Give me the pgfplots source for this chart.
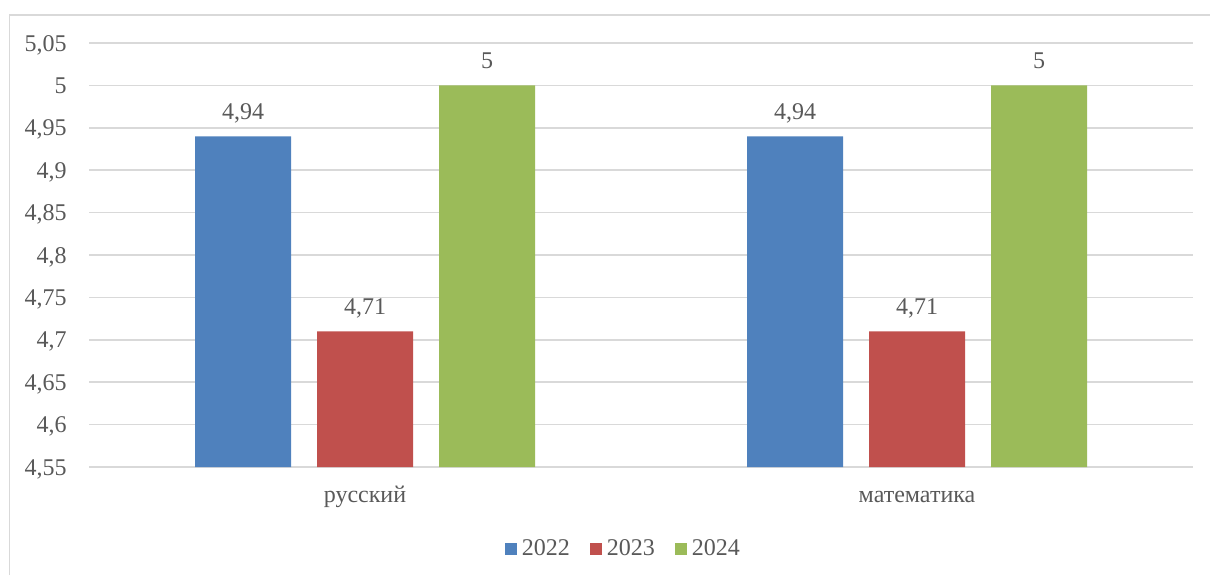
\documentclass[border=0pt]{standalone}
\usepackage{pgfplots}
\pgfplotsset{compat=1.18}
\usepackage{fontspec}
\setmainfont{Liberation Serif}
\definecolor{cblue}{HTML}{4F81BD}
\definecolor{cred}{HTML}{C0504D}
\definecolor{cgreen}{HTML}{9BBB59}
\definecolor{tgray}{HTML}{595959}
\definecolor{ggray}{HTML}{D9D9D9}
\newcommand{\lf}{\fontsize{12}{14}\selectfont}
\begin{document}
\begin{tikzpicture}[font=\lf]
\draw[ggray, line width=0.75pt] (4.75pt,0pt) -- (4.75pt,280pt) -- (605pt,280pt);
\begin{axis}[
  at={(44.5pt,54pt)}, anchor=south west,
  scale only axis, width=552pt, height=212pt,
  ybar=13pt, bar width=48pt,
  xmin=-0.5, xmax=1.5,
  ymin=4.55, ymax=5.05,
  xtick={0,1}, xticklabels={русский, математика},
  ytick={4.55,4.6,4.65,4.7,4.75,4.8,4.85,4.9,4.95,5,5.05},
  yticklabels={{4,55},{4,6},{4,65},{4,7},{4,75},{4,8},{4,85},{4,9},{4,95},{5},{5,05}},
  major tick length=0pt,
  tick style={draw=none},
  axis line style={draw=none},
  ymajorgrids, grid style={ggray, line width=0.75pt},
  yticklabel style={anchor=east, inner sep=0pt, xshift=-11pt, text=tgray, text height=8pt, text depth=0pt, font=\lf},
  xticklabel style={anchor=base, inner sep=0pt, yshift=-17.5pt, text=tgray, font=\lf},
  point meta=explicit symbolic,
  nodes near coords,
  every node near coord/.append style={anchor=base, inner sep=0pt, yshift=8.35pt, text=tgray, font=\lf},
  legend columns=3,
  legend style={at={(axis description cs:0.3768,-0.1934)}, anchor=west, draw=none, fill=none, inner sep=0pt, outer sep=0pt,
    nodes={inner sep=0pt, text=tgray, font=\lf},
    /tikz/every odd column/.append style={column sep=2.5pt},
    /tikz/every even column/.append style={column sep=10pt}},
  legend image code/.code={\fill[#1] (0pt,-3pt) rectangle (6pt,3pt);},
]
\addplot[fill=cblue, draw=none] coordinates {(0,4.94) [4,94] (1,4.94) [4,94]};
\addplot[fill=cred, draw=none] coordinates {(0,4.71) [4,71] (1,4.71) [4,71]};
\addplot[fill=cgreen, draw=none] coordinates {(0,5) [5] (1,5) [5]};
\legend{2022,2023,2024}
\end{axis}
\pgfresetboundingbox
\path (0,0) rectangle (605pt,287.5pt);
\end{tikzpicture}
\end{document}
